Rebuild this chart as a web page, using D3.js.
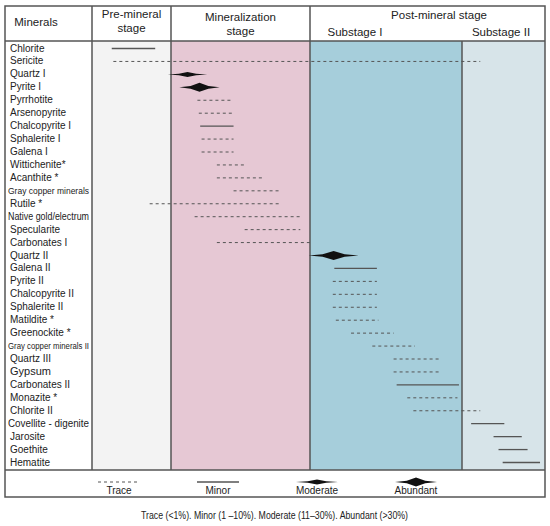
<!DOCTYPE html>
<html>
<head>
<meta charset="utf-8">
<script src="https://cdn.jsdelivr.net/npm/d3@7"></script>
<style>
  body { margin: 0; background: #fff; }
  svg { display: block; }
  text { font-family: "Liberation Sans", Arial, sans-serif; fill: #222; }
</style>
</head>
<body>
<svg id="chart"></svg>
<script>
// paragenetic sequence, positions are in "stage units" (0-1 pre, 1-2 mineralization, 2-3 substage I, 3-4 substage II)
const minerals = [
    "Chlorite", "Sericite", "Quartz I", "Pyrite I", "Pyrrhotite", "Arsenopyrite",
    "Chalcopyrite I", "Sphalerite I", "Galena I", "Wittichenite*", "Acanthite *",
    "Gray copper minerals", "Rutile *", "Native gold/electrum", "Specularite",
    "Carbonates I", "Quartz II", "Galena II", "Pyrite II", "Chalcopyrite  II",
    "Sphalerite II", "Matildite *", "Greenockite *", "Gray copper minerals II",
    "Quartz III", "Gypsum", "Carbonates II", "Monazite *", "Chlorite II",
    "Covellite - digenite", "Jarosite", "Goethite", "Hematite"
];
const abundance = [
    "minor", "trace", "moderate", "abundant", "trace", "trace",
    "minor", "trace", "trace", "trace", "trace",
    "trace", "trace", "trace", "trace",
    "trace", "abundant", "minor", "trace", "trace",
    "trace", "trace", "trace", "trace",
    "trace", "trace", "minor", "trace", "trace",
    "minor", "minor", "minor", "minor"
];
const startPos = [
    0.25, 0.27, 0.96, 1.06, 1.19, 1.20,
    1.21, 1.22, 1.22, 1.33, 1.33,
    1.45, 0.73, 1.17, 1.53,
    1.33, 1.99, 2.16, 2.15, 2.15,
    2.15, 2.17, 2.27, 2.41,
    2.55, 2.55, 2.57, 2.64, 2.68,
    3.11, 3.38, 3.44, 3.49
];
const endPos = [
    0.80, 3.22, 1.26, 1.35, 1.43, 1.44,
    1.45, 1.45, 1.45, 1.53, 1.66,
    1.79, 1.78, 1.93, 1.93,
    2.00, 2.32, 2.44, 2.44, 2.44,
    2.44, 2.45, 2.55, 2.69,
    2.85, 2.85, 2.98, 2.97, 3.22,
    3.51, 3.72, 3.79, 3.94
];
const stages = ["pre", "mineralization", "substage1", "substage2"];
const legendLevels = ["trace", "minor", "moderate", "abundant"];
const legendLabels = ["Trace", "Minor", "Moderate", "Abundant"];
const caption = "Trace (<1%). Minor (1 \u201310%). Moderate (11\u201330%). Abundant (>30%)";

const width = 550;
const height = 526;
const frameLeft = 5, frameRight = 545, frameTop = 6;
const headBottom = 41, bodyBottom = 470, legendBottom = 497;
const labelCol = 92;
const ink = "#555";

const stageColors = ["#f3f3f3", "#e6c8d4", "#a6cedb", "#d7e4e9"];

const svg = d3.select("#chart")
    .attr("width", width)
    .attr("height", height)
    .attr("viewBox", [0, 0, width, height]);

const x = d3.scaleLinear()
    .domain([0, 1, 2, 3, 4])
    .range([labelCol, 171, 310, 462, frameRight]);

const y = d3.scalePoint()
    .domain(minerals)
    .range([48, 462]);

// stage backgrounds
svg.append("g")
    .selectAll("rect")
    .data(stages)
    .join("rect")
        .attr("x", (d, i) => x(i))
        .attr("y", headBottom)
        .attr("width", (d, i) => x(i + 1) - x(i))
        .attr("height", bodyBottom - headBottom)
        .attr("fill", (d, i) => stageColors[i]);

// frame
const frame = svg.append("g")
    .attr("stroke", ink)
    .attr("fill", "none");
frame.append("rect")
    .attr("x", frameLeft)
    .attr("y", frameTop)
    .attr("width", frameRight - frameLeft)
    .attr("height", legendBottom - frameTop)
    .attr("stroke-width", 1.5);
[headBottom, bodyBottom].forEach(yy => {
    frame.append("line")
        .attr("x1", frameLeft).attr("x2", frameRight)
        .attr("y1", yy).attr("y2", yy)
        .attr("stroke-width", 1.5);
});
[0, 1, 2].forEach(s => {
    frame.append("line")
        .attr("x1", x(s)).attr("x2", x(s))
        .attr("y1", frameTop).attr("y2", bodyBottom)
        .attr("stroke-width", 1.5);
});
frame.append("line")
    .attr("x1", x(3)).attr("x2", x(3))
    .attr("y1", headBottom).attr("y2", bodyBottom)
    .attr("stroke-width", 1.5);

// header
const header = svg.append("g")
    .style("font-size", "11.5px")
    .attr("text-anchor", "middle");
header.append("text")
    .attr("x", 36).attr("y", 26)
    .text("Minerals");
header.append("text")
    .attr("x", x(0.5)).attr("y", 18)
    .text("Pre-mineral");
header.append("text")
    .attr("x", x(0.5)).attr("y", 32)
    .text("stage");
header.append("text")
    .attr("x", x(1.5)).attr("y", 21)
    .text("Mineralization");
header.append("text")
    .attr("x", x(1.5)).attr("y", 35)
    .text("stage");
header.append("text")
    .attr("x", 439).attr("y", 19)
    .text("Post-mineral stage");
header.append("text")
    .attr("x", 355).attr("y", 36)
    .text("Substage I");
header.append("text")
    .attr("x", 501).attr("y", 36)
    .text("Substage II");

// mineral labels
const labelSize = {"Gray copper minerals": 9.5, "Gray copper minerals II": 8.5, "Gypsum": 11};
const labels = svg.append("g")
    .selectAll("text")
    .data(minerals)
    .join("text")
        .attr("x", 10)
        .attr("y", d => y(d))
        .attr("dy", "0.35em")
        .style("font-size", d => (labelSize[d] || 10) + "px")
        .text(d => d);
labels.each(function() {
    const w = this.getComputedTextLength();
    if (w > 80) {
        d3.select(this)
            .attr("x", 8)
            .attr("textLength", 81)
            .attr("lengthAdjust", "spacingAndGlyphs");
    }
});

// abundance marks
function lens(x0, x1, yc, h) {
    const w = x1 - x0, xc = (x0 + x1) / 2;
    return `M${x0},${yc} L${xc - w * 0.22},${yc - h * 0.3} L${xc},${yc - h}` +
        ` L${xc + w * 0.22},${yc - h * 0.3} L${x1},${yc}` +
        ` L${xc + w * 0.22},${yc + h * 0.3} L${xc},${yc + h}` +
        ` L${xc - w * 0.22},${yc + h * 0.3} Z`;
}
const halfHeight = {moderate: 2.5, abundant: 4.5};

function drawMark(g, level, x0, x1, yc) {
    if (level === "trace") {
        g.append("line")
            .attr("x1", x0).attr("x2", x1)
            .attr("y1", yc).attr("y2", yc)
            .attr("stroke", ink)
            .attr("stroke-width", 1)
            .attr("stroke-dasharray", "3,3");
    } else if (level === "minor") {
        g.append("line")
            .attr("x1", x0).attr("x2", x1)
            .attr("y1", yc).attr("y2", yc)
            .attr("stroke", ink)
            .attr("stroke-width", 1.3);
    } else {
        g.append("path")
            .attr("d", lens(x0, x1, yc, halfHeight[level]))
            .attr("fill", "#111");
    }
}

const marks = svg.append("g");
minerals.forEach((m, i) => {
    drawMark(marks, abundance[i], x(startPos[i]), x(endPos[i]), y(m) + 0.5);
});

// legend
const lx = d3.scalePoint()
    .domain(legendLevels)
    .range([119, 416]);
const legend = svg.append("g");
legendLevels.forEach((lv, i) => {
    drawMark(legend, lv, lx(lv) - 21, lx(lv) + 21, 482);
    legend.append("text")
        .attr("x", lx(lv))
        .attr("y", 494)
        .attr("text-anchor", "middle")
        .style("font-size", "10px")
        .text(legendLabels[i]);
});

svg.append("text")
    .attr("x", 141)
    .attr("y", 519)
    .style("font-size", "10px")
    .attr("textLength", 267)
    .attr("lengthAdjust", "spacingAndGlyphs")
    .text(caption);
</script>
</body>
</html>
